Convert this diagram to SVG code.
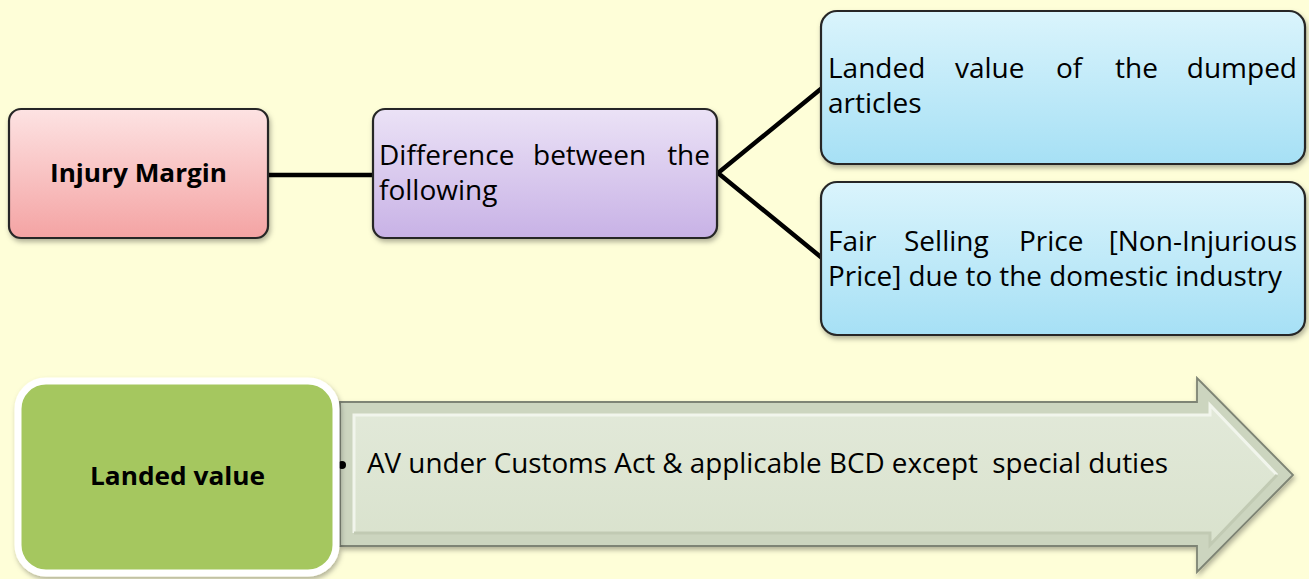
<svg xmlns="http://www.w3.org/2000/svg" width="1309" height="579" viewBox="0 0 1309 579">
<defs>
<linearGradient id="gPink" x1="0" y1="0" x2="0" y2="1"><stop offset="0" stop-color="#fde3e3"/><stop offset="1" stop-color="#f4a3a3"/></linearGradient>
<linearGradient id="gPurple" x1="0" y1="0" x2="0" y2="1"><stop offset="0" stop-color="#ebe2f6"/><stop offset="1" stop-color="#c8b2e6"/></linearGradient>
<linearGradient id="gBlue" x1="0" y1="0" x2="0" y2="1"><stop offset="0" stop-color="#daf4fc"/><stop offset="1" stop-color="#a6e0f5"/></linearGradient>
<linearGradient id="gArrow" x1="0" y1="0" x2="0" y2="1"><stop offset="0" stop-color="#e2e9d9"/><stop offset="1" stop-color="#d9e2cd"/></linearGradient>
<filter id="sh" x="-10%" y="-10%" width="120%" height="130%"><feDropShadow dx="1.5" dy="3" stdDeviation="2.5" flood-color="#000" flood-opacity="0.3"/></filter>
<style>
.box{stroke:#262626;stroke-width:2.2}
.t{font-family:"Open Sans","Liberation Sans",sans-serif;font-size:28px;fill:#000}
.e{text-anchor:end}
.b{font-family:"Open Sans","Liberation Sans",sans-serif;font-size:25px;font-weight:bold;fill:#000}
.conn{stroke:#000;stroke-width:4.5;fill:none;stroke-linecap:butt}
</style>
</defs>
<rect width="1309" height="579" fill="#fefed8"/>

<g id="connectors">
<line class="conn" x1="268" y1="175" x2="373" y2="175"/>
<polyline class="conn" points="822,88 718,173 822,258"/>
</g>

<g id="injury-margin">
<rect class="box" x="9" y="109" width="259" height="129" rx="12" fill="url(#gPink)" filter="url(#sh)"/>
<text class="b" x="50" y="182" textLength="177" lengthAdjust="spacingAndGlyphs">Injury Margin</text>
</g>

<g id="difference">
<rect class="box" x="373" y="109" width="344" height="129" rx="12" fill="url(#gPurple)" filter="url(#sh)"/>
<text class="t" y="165"><tspan x="379">Difference</tspan><tspan x="533">between</tspan><tspan x="710" class="e">the</tspan></text>
<text class="t" x="379" y="200">following</text>
</g>

<g id="landed-value-box">
<rect class="box" x="821" y="11" width="484" height="153" rx="16" fill="url(#gBlue)" filter="url(#sh)"/>
<text class="t" y="78"><tspan x="828">Landed</tspan><tspan x="955">value</tspan><tspan x="1056">of</tspan><tspan x="1115">the</tspan><tspan x="1297" class="e">dumped</tspan></text>
<text class="t" x="828" y="113">articles</text>
</g>

<g id="fair-price-box">
<rect class="box" x="821" y="182" width="484" height="153" rx="16" fill="url(#gBlue)" filter="url(#sh)"/>
<text class="t" y="251"><tspan x="828">Fair</tspan><tspan x="904">Selling</tspan><tspan x="1019">Price</tspan><tspan x="1297" class="e">[Non-Injurious</tspan></text>
<text class="t" x="828" y="286" textLength="454" lengthAdjust="spacingAndGlyphs">Price] due to the domestic industry</text>
</g>

<g id="arrow">
<polygon points="340,402 1197,402 1197,378 1293,475 1197,572 1197,546 340,546" fill="#ccd5bf" stroke="#7e8474" stroke-width="1.8" filter="url(#sh)"/>
<polygon points="354,415 1210,415 1210,405 1277,475 1210,545 1210,533 354,533" fill="url(#gArrow)"/>
<polyline points="354,533 354,415 1210,415 1210,405 1277,475" fill="none" stroke="#f1f5ec" stroke-width="3"/>
<polyline points="1277,475 1210,545 1210,533 354,533" fill="none" stroke="#c1cab3" stroke-width="3"/>
<circle cx="342" cy="465" r="4" fill="#000"/>
<text class="t" x="367" y="473" textLength="801" lengthAdjust="spacingAndGlyphs" xml:space="preserve">AV under Customs Act &amp; applicable BCD except  special duties</text>
</g>

<g id="landed-value">
<rect x="18" y="381" width="318" height="192" rx="28" fill="#a5c75f" stroke="#ffffff" stroke-width="7" filter="url(#sh)"/>
<text class="b" x="90" y="485" textLength="175" lengthAdjust="spacingAndGlyphs">Landed value</text>
</g>
</svg>
